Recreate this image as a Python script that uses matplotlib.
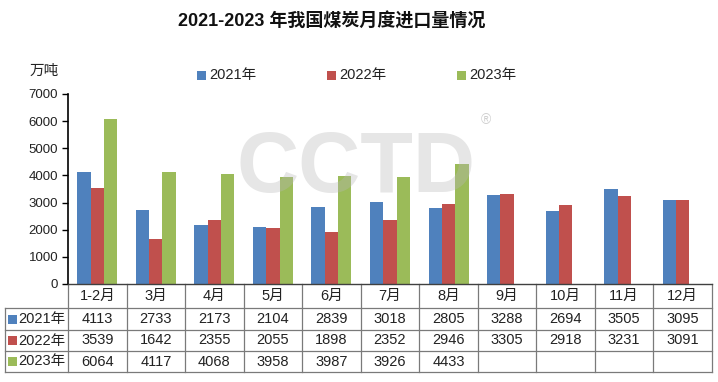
import matplotlib
matplotlib.use("Agg")
import matplotlib.pyplot as plt
import numpy as np

plt.rcParams['font.family'] = ['Liberation Sans', 'Noto Sans CJK SC', 'DejaVu Sans']

categories = ["1-2月", "3月", "4月", "5月", "6月", "7月", "8月", "9月", "10月", "11月", "12月"]
series_names = ["2021年", "2022年", "2023年"]
v2021 = [4113, 2733, 2173, 2104, 2839, 3018, 2805, 3288, 2694, 3505, 3095]
v2022 = [3539, 1642, 2355, 2055, 1898, 2352, 2946, 3305, 2918, 3231, 3091]
v2023 = [6064, 4117, 4068, 3958, 3987, 3926, 4433, None, None, None, None]
colors = ["#4F81BD", "#C0504D", "#9BBB59"]
yticks = [0, 1000, 2000, 3000, 4000, 5000, 6000, 7000]

W, H = 718, 382
fig = plt.figure(figsize=(W / 100, H / 100), dpi=100)
ax_l, ax_r, ax_t, ax_b = 68, 712, 94, 284
ax = fig.add_axes([ax_l / W, 1 - ax_b / H, (ax_r - ax_l) / W, (ax_b - ax_t) / H])

n = len(categories)
x = np.arange(n)
bw = 0.228
all_series = [v2021, v2022, v2023]
for i, vals in enumerate(all_series):
    arr = np.array([np.nan if v is None else v for v in vals], dtype=float)
    ax.bar(x + (i - 1) * bw, arr, width=bw, color=colors[i], zorder=2)

ax.set_xlim(-0.5, n - 0.5)
ax.set_ylim(0, 7000)
ax.set_yticks(yticks)
ax.set_yticklabels([str(t) for t in yticks], fontsize=9.5, color="#222222")
ax.set_xticks([])
ax.tick_params(axis='y', direction='out', length=4, width=1, pad=3)
for s in ["top", "right"]:
    ax.spines[s].set_visible(False)
ax.spines["left"].set_color("black")
ax.spines["left"].set_linewidth(1.2)
ax.spines["bottom"].set_color("#404040")
ax.spines["bottom"].set_linewidth(1.0)

# Table below the axis
tr = ax.get_xaxis_transform()
px_per_unit = (ax_r - ax_l) / n
left_x = -0.5 - (ax_l - 5) / px_per_unit
ah = ax_b - ax_t
rows_px = [284, 308, 330, 351, 372]
rows_y = [-(r - ax_b) / ah for r in rows_px]
lc = "#7a7a7a"
lw = 0.9
for k in range(n + 1):
    ax.plot([k - 0.5, k - 0.5], [rows_y[0], rows_y[-1]], color=lc, lw=lw, transform=tr, clip_on=False)
ax.plot([left_x, left_x], [rows_y[1], rows_y[-1]], color=lc, lw=lw, transform=tr, clip_on=False)
for yv in rows_y[1:]:
    ax.plot([left_x, n - 0.5], [yv, yv], color=lc, lw=lw, transform=tr, clip_on=False)

hy = (rows_y[0] + rows_y[1]) / 2
for k, c in enumerate(categories):
    ax.text(k, hy, c, transform=tr, ha='center', va='center', fontsize=10.5, color="#222222", clip_on=False)
for r, (name, vals) in enumerate(zip(series_names, all_series)):
    yc = (rows_y[r + 1] + rows_y[r + 2]) / 2
    for k, v in enumerate(vals):
        if v is not None:
            ax.text(k, yc, str(v), transform=tr, ha='center', va='center', fontsize=10.5, color="#222222", clip_on=False)
    # row label with colored square
    fy = 1 - ((rows_px[r + 1] + rows_px[r + 2]) / 2) / H
    fig.patches.append(plt.Rectangle((8 / W, fy - 4.5 / H), 9 / W, 9 / H, transform=fig.transFigure,
                                     facecolor=colors[r], edgecolor='none'))
    fig.text(18 / W, fy, name, ha='left', va='center', fontsize=10.5, color="#222222")

# Legend
leg_x = [197, 327, 457]
for i, name in enumerate(series_names):
    fy = 1 - 75 / H
    fig.patches.append(plt.Rectangle((leg_x[i] / W, fy - 4.5 / H), 9 / W, 9 / H, transform=fig.transFigure,
                                     facecolor=colors[i], edgecolor='none'))
    fig.text((leg_x[i] + 12) / W, fy, name, ha='left', va='center', fontsize=10.5, color="#222222")

# Title and unit
fig.text(332 / W, 1 - 22 / H, "2021-2023 年我国煤炭月度进口量情况", ha='center', va='center',
         fontsize=13, fontweight='bold', color="#111111")
fig.text(30 / W, 1 - 71 / H, "万吨", ha='left', va='center', fontsize=10.5, color="#222222")

# Watermark (logo)
fig.text(356 / W, 1 - 170 / H, "CCTD", ha='center', va='center', fontsize=62, fontweight='bold',
         color="#b8b8b8", alpha=0.35, zorder=5)
fig.text(486 / W, 1 - 120 / H, "®", ha='center', va='center', fontsize=10, color="#b0b0b0", alpha=0.6, zorder=5)

fig.savefig("out.png", dpi=100, facecolor="white")
